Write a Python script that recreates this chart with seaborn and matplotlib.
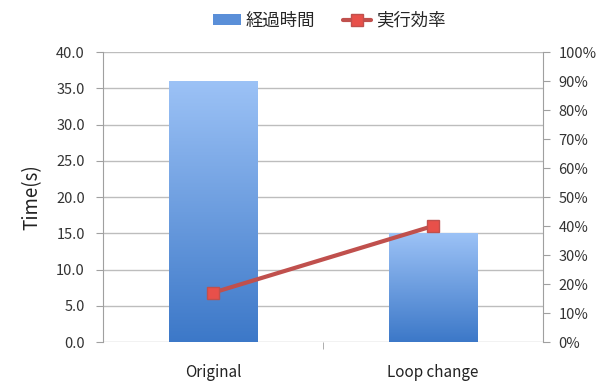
import numpy as np
import pandas as pd
import matplotlib
matplotlib.use("Agg")
import matplotlib.pyplot as plt
import seaborn as sns
from matplotlib.colors import LinearSegmentedColormap
from matplotlib.patches import Patch
from matplotlib.lines import Line2D
from matplotlib.ticker import FuncFormatter, MultipleLocator

categories = ["Original", "Loop change"]
elapsed_time = [36.0, 15.0]
efficiency = [0.17, 0.40]
legend_labels = ["経過時間", "実行効率"]

sns.set_style("white")
plt.rcParams['font.family'] = ['Noto Sans CJK JP', 'DejaVu Sans']

fig = plt.figure(figsize=(6.04, 3.89), dpi=100)
ax = fig.add_axes([0.1705, 0.1208, 0.7285, 0.7455])

df = pd.DataFrame({"cat": categories, "time": elapsed_time, "eff": efficiency})
sns.barplot(data=df, x="cat", y="time", ax=ax, width=0.4, color="#5a8fd8", zorder=2)

cmap = LinearSegmentedColormap.from_list("g", ["#3c78c8", "#9cc2f6"])
grad = np.linspace(0, 1, 256).reshape(-1, 1)
for p in ax.patches:
    x0, y0 = p.get_x(), p.get_y()
    w, h = p.get_width(), p.get_height()
    p.set_facecolor("none")
    p.set_edgecolor("none")
    im = ax.imshow(grad, cmap=cmap, aspect="auto", origin="lower",
                   extent=[x0, x0 + w, y0, y0 + h], zorder=2)
    im.set_clip_path(p)

ax.set_xlim(-0.5, 1.5)
ax.set_ylim(0, 40)
ax.yaxis.set_major_locator(MultipleLocator(5))
ax.yaxis.set_major_formatter(FuncFormatter(lambda v, _: f"{v:.1f}"))
ax.grid(axis="y", color="#bdbdbd", linewidth=1, zorder=0)
ax.set_axisbelow(True)
ax.set_xlabel("")
ax.set_ylabel("Time(s)", fontsize=13.5, color="#222222", labelpad=10)
for s in ["top", "bottom"]:
    ax.spines[s].set_visible(False)
ax.spines["left"].set_color("#a0a0a0")
ax.spines["right"].set_visible(False)
ax.tick_params(axis="y", which="major", left=True, length=5, color="#a0a0a0",
               labelsize=10.5, labelcolor="#333333", pad=8)
ax.tick_params(axis="x", bottom=False, labelsize=11, labelcolor="#222222", pad=12)
ax.set_xticks([0, 1])
ax.set_xticklabels(categories)
ax.set_xticks([0.5], minor=True)
ax.tick_params(axis="x", which="minor", bottom=True, length=5, color="#a0a0a0")

ax2 = ax.twinx()
sns.lineplot(data=df, x="cat", y="eff", ax=ax2, color="#c0504d", linewidth=3,
             marker="s", markersize=9, markerfacecolor="#e8504a",
             markeredgecolor="#c0504d", markeredgewidth=1, zorder=5)
ax2.set_ylim(0, 1)
ax2.yaxis.set_major_locator(MultipleLocator(0.1))
ax2.yaxis.set_major_formatter(FuncFormatter(lambda v, _: f"{int(round(v*100))}%"))
ax2.set_ylabel("")
for s in ["top", "bottom", "left"]:
    ax2.spines[s].set_visible(False)
ax2.spines["right"].set_color("#a0a0a0")
ax2.tick_params(axis="y", right=True, length=5, color="#a0a0a0",
                labelsize=10.5, labelcolor="#333333", pad=6)
ax2.grid(False)
ax2.set_xlim(-0.5, 1.5)

handles = [Patch(facecolor="#5a8fd8", edgecolor="none"),
           Line2D([0], [0], color="#c0504d", linewidth=3, marker="s",
                  markersize=8, markerfacecolor="#e8504a", markeredgecolor="#c0504d")]
fig.legend(handles, legend_labels, loc="upper center", bbox_to_anchor=(0.545, 1.01),
           ncol=2, frameon=False, fontsize=12.5, handlelength=1.6,
           handleheight=0.6, columnspacing=1.6, handletextpad=0.3)

fig.savefig("out.png", dpi=100)
